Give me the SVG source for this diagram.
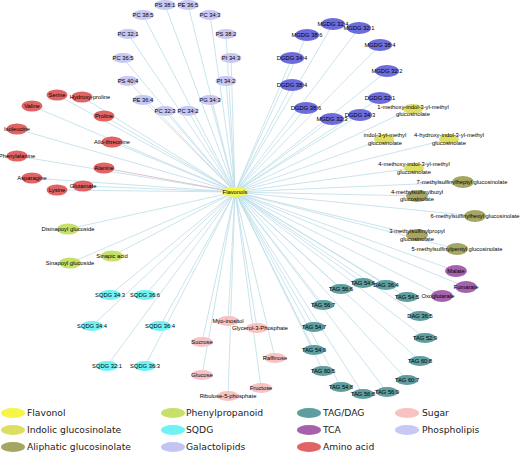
<svg xmlns="http://www.w3.org/2000/svg" width="520" height="453" viewBox="0 0 520 453">
<style>
text{font-family:"Liberation Sans",Arial,sans-serif;font-size:5.8px;fill:#000;text-anchor:middle}
.lg text{font-family:"DejaVu Sans",Verdana,sans-serif;font-size:9.2px;fill:#222;text-anchor:start}
.fl{fill:#f6f64a}.ig{fill:#dede62}.ag{fill:#a4a662}.pp{fill:#c6e06a}.sq{fill:#70f2f4}.gl{fill:#6c6cdc}.gll{fill:#c4c4f4}
.td{fill:#5f9ea0}.tca{fill:#a462ac}.aa{fill:#e06464}.su{fill:#f8c2c2}.ph{fill:#c8c8f4}
#connectors line{stroke:#bcdde9;stroke-width:0.8}
</style>
<rect width="520" height="453" fill="#fff"/>
<g id="connectors">
<line x1="235" y1="192" x2="165" y2="5"/><line x1="235" y1="192" x2="188" y2="5"/><line x1="235" y1="192" x2="210" y2="15"/><line x1="235" y1="192" x2="226" y2="34"/><line x1="235" y1="192" x2="231" y2="58"/><line x1="235" y1="192" x2="226" y2="81"/><line x1="235" y1="192" x2="210" y2="100"/><line x1="235" y1="192" x2="188" y2="111"/><line x1="235" y1="192" x2="165" y2="111"/><line x1="235" y1="192" x2="143" y2="100"/><line x1="235" y1="192" x2="128" y2="81"/><line x1="235" y1="192" x2="123" y2="58"/><line x1="235" y1="192" x2="128" y2="34"/><line x1="235" y1="192" x2="143" y2="15"/>
<line x1="235" y1="192" x2="333" y2="24"/><line x1="235" y1="192" x2="359" y2="28"/><line x1="235" y1="192" x2="380" y2="45"/><line x1="235" y1="192" x2="387" y2="71"/><line x1="235" y1="192" x2="380" y2="98"/><line x1="235" y1="192" x2="360" y2="115"/><line x1="235" y1="192" x2="332" y2="119"/><line x1="235" y1="192" x2="306" y2="108"/><line x1="235" y1="192" x2="292" y2="85"/><line x1="235" y1="192" x2="292" y2="58"/><line x1="235" y1="192" x2="307" y2="35"/>
<line x1="235" y1="192" x2="413" y2="108"/><line x1="235" y1="192" x2="384" y2="139"/><line x1="235" y1="192" x2="449" y2="139"/><line x1="235" y1="192" x2="414" y2="168"/>
<line x1="235" y1="192" x2="463" y2="182"/><line x1="235" y1="192" x2="417" y2="196"/><line x1="235" y1="192" x2="475" y2="216"/><line x1="235" y1="192" x2="417" y2="235"/><line x1="235" y1="192" x2="457" y2="249"/>
<line x1="235" y1="192" x2="456" y2="271"/><line x1="235" y1="192" x2="466" y2="287"/><line x1="235" y1="192" x2="442" y2="296"/>
<line x1="235" y1="192" x2="363" y2="283"/><line x1="235" y1="192" x2="386" y2="285"/><line x1="235" y1="192" x2="341" y2="289"/><line x1="235" y1="192" x2="407" y2="297"/><line x1="235" y1="192" x2="323" y2="305"/><line x1="235" y1="192" x2="420" y2="316"/><line x1="235" y1="192" x2="314" y2="327"/><line x1="235" y1="192" x2="425" y2="338"/><line x1="235" y1="192" x2="314" y2="350"/><line x1="235" y1="192" x2="420" y2="361"/><line x1="235" y1="192" x2="323" y2="371"/><line x1="235" y1="192" x2="407" y2="380"/><line x1="235" y1="192" x2="341" y2="387"/><line x1="235" y1="192" x2="387" y2="392"/><line x1="235" y1="192" x2="363" y2="394"/>
<line x1="235" y1="192" x2="228" y2="321"/><line x1="235" y1="192" x2="257" y2="328"/><line x1="235" y1="192" x2="202" y2="342"/><line x1="235" y1="192" x2="275" y2="358"/><line x1="235" y1="192" x2="202" y2="375"/><line x1="235" y1="192" x2="261" y2="388"/><line x1="235" y1="192" x2="228" y2="396"/>
<line x1="235" y1="192" x2="110" y2="295"/><line x1="235" y1="192" x2="145" y2="295"/><line x1="235" y1="192" x2="92" y2="326"/><line x1="235" y1="192" x2="160" y2="326"/><line x1="235" y1="192" x2="107" y2="366"/><line x1="235" y1="192" x2="145" y2="366"/>
<line x1="235" y1="192" x2="68" y2="229"/><line x1="235" y1="192" x2="112" y2="256"/><line x1="235" y1="192" x2="70" y2="263"/>
<line x1="235" y1="192" x2="57" y2="95"/><line x1="235" y1="192" x2="82" y2="97"/><line x1="235" y1="192" x2="32" y2="106"/><line x1="235" y1="192" x2="104" y2="116"/><line x1="235" y1="192" x2="17" y2="129"/><line x1="235" y1="192" x2="112" y2="142"/><line x1="235" y1="192" x2="17" y2="156"/><line x1="235" y1="192" x2="104" y2="168" style="stroke:#d4b4c0"/><line x1="235" y1="192" x2="32" y2="178"/><line x1="235" y1="192" x2="83" y2="186"/><line x1="235" y1="192" x2="57" y2="190"/>
</g>
<!-- Phospholipids -->
<g id="ps381"><ellipse class="ph" cx="165" cy="5" rx="10.5" ry="5"/><text x="165" y="7">PS 38:1</text></g>
<g id="pe365"><ellipse class="ph" cx="188" cy="5" rx="10.5" ry="5"/><text x="188" y="7">PE 36:5</text></g>
<g id="pc343"><ellipse class="ph" cx="210" cy="15" rx="10.5" ry="5"/><text x="210" y="17">PC 34:3</text></g>
<g id="ps382"><ellipse class="ph" cx="226" cy="34" rx="10.5" ry="5"/><text x="226" y="36">PS 38:2</text></g>
<g id="pi343"><ellipse class="ph" cx="231" cy="58" rx="10.5" ry="5"/><text x="231" y="60">PI 34:3</text></g>
<g id="pi342"><ellipse class="ph" cx="226" cy="81" rx="10.5" ry="5"/><text x="226" y="83">PI 34:2</text></g>
<g id="pg343"><ellipse class="ph" cx="210" cy="100" rx="10.5" ry="5"/><text x="210" y="102">PG 34:3</text></g>
<g id="pc342"><ellipse class="ph" cx="188" cy="111" rx="10.5" ry="5"/><text x="188" y="113">PC 34:2</text></g>
<g id="pc323"><ellipse class="ph" cx="165" cy="111" rx="10.5" ry="5"/><text x="165" y="113">PC 32:3</text></g>
<g id="pe364"><ellipse class="ph" cx="143" cy="100" rx="10.5" ry="5"/><text x="143" y="102">PE 36:4</text></g>
<g id="ps404"><ellipse class="ph" cx="128" cy="81" rx="10.5" ry="5"/><text x="128" y="83">PS 40:4</text></g>
<g id="pc365"><ellipse class="ph" cx="123" cy="58" rx="10.5" ry="5"/><text x="123" y="60">PC 36:5</text></g>
<g id="pc321"><ellipse class="ph" cx="128" cy="34" rx="10.5" ry="5"/><text x="128" y="36">PC 32:1</text></g>
<g id="pc385"><ellipse class="ph" cx="143" cy="15" rx="10.5" ry="5"/><text x="143" y="17">PC 38:5</text></g>
<!-- Galactolipids -->
<g id="mgdg324"><ellipse class="gl" cx="333" cy="24" rx="12" ry="6"/><text x="333" y="26">MGDG 32:4</text></g>
<g id="mgdg321"><ellipse class="gl" cx="359" cy="28" rx="12" ry="6"/><text x="359" y="30">MGDG 32:1</text></g>
<g id="mgdg384"><ellipse class="gl" cx="380" cy="45" rx="12" ry="6"/><text x="380" y="47">MGDG 38:4</text></g>
<g id="mgdg322"><ellipse class="gl" cx="387" cy="71" rx="12" ry="6"/><text x="387" y="73">MGDG 32:2</text></g>
<g id="dgdg321"><ellipse class="gl" cx="380" cy="98" rx="12" ry="6"/><text x="380" y="100">DGDG 32:1</text></g>
<g id="dgdg343"><ellipse class="gl" cx="360" cy="115" rx="12" ry="6"/><text x="360" y="117">DGDG 34:3</text></g>
<g id="mgdg323"><ellipse class="gl" cx="332" cy="119" rx="12" ry="6"/><text x="332" y="121">MGDG 32:3</text></g>
<g id="dgdg386"><ellipse class="gl" cx="306" cy="108" rx="12" ry="6"/><text x="306" y="110">DGDG 38:6</text></g>
<g id="dgdg384"><ellipse class="gl" cx="292" cy="85" rx="12" ry="6"/><text x="292" y="87">DGDG 38:4</text></g>
<g id="dgdg344"><ellipse class="gl" cx="292" cy="58" rx="12" ry="6"/><text x="292" y="60">DGDG 34:4</text></g>
<g id="mgdg386"><ellipse class="gl" cx="307" cy="35" rx="12" ry="6"/><text x="307" y="37">MGDG 38:6</text></g>
<!-- Indolic glucosinolates -->
<g id="g1m"><ellipse class="ig" cx="413" cy="109" rx="10" ry="5"/><text x="413" y="109">1-methoxy-indol-3-yl-methyl</text><text x="413" y="116">glucosinolate</text></g>
<g id="gi3m"><ellipse class="ig" cx="384" cy="139" rx="10" ry="5"/><text x="385" y="137">indol-3-yl-methyl</text><text x="385" y="145">glucosinolate</text></g>
<g id="g4h"><ellipse class="ig" cx="449" cy="139" rx="10" ry="5"/><text x="449" y="137">4-hydroxy-indol-3-yl-methyl</text><text x="449" y="145">glucosinolate</text></g>
<g id="g4m"><ellipse class="ig" cx="414" cy="168" rx="10" ry="5"/><text x="414" y="166">4-methoxy-indol-3-yl-methyl</text><text x="414" y="174">glucosinolate</text></g>
<!-- Aliphatic glucosinolates -->
<g id="g7ms"><ellipse class="ag" cx="463" cy="182" rx="11" ry="6"/><text x="462" y="184">7-methylsulfinylheptyl glucosinolate</text></g>
<g id="g4ms"><ellipse class="ag" cx="417" cy="196" rx="11" ry="6"/><text x="417" y="194">4-methylsulfinylbutyl</text><text x="417" y="201">glucosinolate</text></g>
<g id="g6ms"><ellipse class="ag" cx="475" cy="216" rx="11" ry="6"/><text x="475" y="218">6-methylsulfinylhexyl glucosinolate</text></g>
<g id="g3ms"><ellipse class="ag" cx="417" cy="235" rx="11" ry="6"/><text x="417" y="233">3-methylsulfinylpropyl</text><text x="417" y="241">glucosinolate</text></g>
<g id="g5ms"><ellipse class="ag" cx="457" cy="249" rx="11" ry="6"/><text x="457" y="251">5-methylsulfinylpentyl glucosinolate</text></g>
<!-- TCA -->
<g id="malate"><ellipse class="tca" cx="456" cy="271" rx="11" ry="6"/><text x="456" y="273">Malate</text></g>
<g id="fumarate"><ellipse class="tca" cx="466" cy="287" rx="11" ry="6"/><text x="466" y="289">Fumarate</text></g>
<g id="oxoglutarate"><ellipse class="tca" cx="442" cy="296" rx="11" ry="6"/><text x="438" y="298">Oxoglutarate</text></g>
<!-- TAG/DAG -->
<g id="tag546"><ellipse class="td" cx="363" cy="283" rx="11" ry="5"/><text x="363" y="285">TAG 54:6</text></g>
<g id="dag364"><ellipse class="td" cx="386" cy="285" rx="11" ry="5"/><text x="386" y="287">DAG 36:4</text></g>
<g id="tag566"><ellipse class="td" cx="341" cy="289" rx="11" ry="5"/><text x="341" y="291">TAG 56:6</text></g>
<g id="tag545"><ellipse class="td" cx="407" cy="297" rx="11" ry="5"/><text x="407" y="299">TAG 54:5</text></g>
<g id="tag567"><ellipse class="td" cx="323" cy="305" rx="11" ry="5"/><text x="323" y="307">TAG 56:7</text></g>
<g id="dag365"><ellipse class="td" cx="420" cy="316" rx="11" ry="5"/><text x="420" y="318">DAG 36:5</text></g>
<g id="tag547"><ellipse class="td" cx="314" cy="327" rx="11" ry="5"/><text x="314" y="329">TAG 54:7</text></g>
<g id="tag529"><ellipse class="td" cx="425" cy="338" rx="11" ry="5"/><text x="425" y="340">TAG 52:9</text></g>
<g id="tag549"><ellipse class="td" cx="314" cy="350" rx="11" ry="5"/><text x="314" y="352">TAG 54:9</text></g>
<g id="tag608"><ellipse class="td" cx="420" cy="361" rx="11" ry="5"/><text x="420" y="363">TAG 60:8</text></g>
<g id="tag605"><ellipse class="td" cx="323" cy="371" rx="11" ry="5"/><text x="323" y="373">TAG 60:5</text></g>
<g id="tag607"><ellipse class="td" cx="407" cy="380" rx="11" ry="5"/><text x="407" y="382">TAG 60:7</text></g>
<g id="tag548"><ellipse class="td" cx="341" cy="387" rx="11" ry="5"/><text x="341" y="389">TAG 54:8</text></g>
<g id="tag569"><ellipse class="td" cx="387" cy="392" rx="11" ry="5"/><text x="387" y="394">TAG 56:9</text></g>
<g id="tag568"><ellipse class="td" cx="363" cy="394" rx="11" ry="5"/><text x="363" y="396">TAG 56:8</text></g>
<!-- Sugars -->
<g id="myo"><ellipse class="su" cx="228" cy="321" rx="11" ry="5"/><text x="228" y="323">Myo-inositol</text></g>
<g id="g3p"><ellipse class="su" cx="257" cy="328" rx="11" ry="5"/><text x="260" y="330">Glycerol-3-Phosphate</text></g>
<g id="sucrose"><ellipse class="su" cx="202" cy="342" rx="11" ry="5"/><text x="202" y="344">Sucrose</text></g>
<g id="raffinose"><ellipse class="su" cx="275" cy="358" rx="11" ry="5"/><text x="275" y="360">Raffinose</text></g>
<g id="glucose"><ellipse class="su" cx="202" cy="375" rx="11" ry="5"/><text x="202" y="377">Glucose</text></g>
<g id="fructose"><ellipse class="su" cx="261" cy="388" rx="11" ry="5"/><text x="261" y="390">Fructose</text></g>
<g id="r5p"><ellipse class="su" cx="228" cy="396" rx="11" ry="5"/><text x="228" y="398">Ribulose-5-phosphate</text></g>
<!-- SQDG -->
<g id="sq343"><ellipse class="sq" cx="110" cy="295" rx="11" ry="5"/><text x="110" y="297">SQDG 34:3</text></g>
<g id="sq366"><ellipse class="sq" cx="145" cy="295" rx="11" ry="5"/><text x="145" y="297">SQDG 36:6</text></g>
<g id="sq344"><ellipse class="sq" cx="92" cy="326" rx="11" ry="5"/><text x="92" y="328">SQDG 34:4</text></g>
<g id="sq364"><ellipse class="sq" cx="160" cy="326" rx="11" ry="5"/><text x="160" y="328">SQDG 36:4</text></g>
<g id="sq321"><ellipse class="sq" cx="107" cy="366" rx="11" ry="5"/><text x="107" y="368">SQDG 32:1</text></g>
<g id="sq363"><ellipse class="sq" cx="145" cy="366" rx="11" ry="5"/><text x="145" y="368">SQDG 36:3</text></g>
<!-- Phenylpropanoids -->
<g id="disinapoyl"><ellipse class="pp" cx="68" cy="229" rx="11" ry="5.5"/><text x="68" y="231">Disinapoyl glucoside</text></g>
<g id="sinapic"><ellipse class="pp" cx="112" cy="256" rx="11" ry="5.5"/><text x="112" y="258">Sinapic acid</text></g>
<g id="sinapoyl"><ellipse class="pp" cx="70" cy="263" rx="11" ry="5.5"/><text x="70" y="265">Sinapoyl glucoside</text></g>
<!-- Amino acids -->
<g id="serine"><ellipse class="aa" cx="57" cy="95" rx="10.5" ry="5.5"/><text x="57" y="97">Serine</text></g>
<g id="hydroxyproline"><ellipse class="aa" cx="82" cy="97" rx="10.5" ry="5.5"/><text x="90" y="99">Hydroxy-proline</text></g>
<g id="valine"><ellipse class="aa" cx="32" cy="106" rx="10.5" ry="5.5"/><text x="32" y="108">Valine</text></g>
<g id="proline"><ellipse class="aa" cx="104" cy="116" rx="10.5" ry="5.5"/><text x="104" y="118">Proline</text></g>
<g id="isoleucine"><ellipse class="aa" cx="17" cy="129" rx="10.5" ry="5.5"/><text x="17" y="131">Isoleucine</text></g>
<g id="allothreonine"><ellipse class="aa" cx="112" cy="142" rx="10.5" ry="5.5"/><text x="112" y="144">Allo-threonine</text></g>
<g id="phenylalanine"><ellipse class="aa" cx="17" cy="156" rx="10.5" ry="5.5"/><text x="17" y="158">Phenylalanine</text></g>
<g id="alanine"><ellipse class="aa" cx="104" cy="168" rx="10.5" ry="5.5"/><text x="104" y="170">Alanine</text></g>
<g id="asparagine"><ellipse class="aa" cx="32" cy="178" rx="10.5" ry="5.5"/><text x="32" y="180">Asparagine</text></g>
<g id="glutamate"><ellipse class="aa" cx="83" cy="186" rx="10.5" ry="5.5"/><text x="83" y="188">Glutamate</text></g>
<g id="lysine"><ellipse class="aa" cx="57" cy="190" rx="10.5" ry="5.5"/><text x="57" y="192">Lysine</text></g>
<!-- Center -->
<g id="flavonols"><ellipse class="fl" cx="235" cy="192" rx="13" ry="5"/><text x="235" y="194">Flavonols</text></g>
<!-- Legend -->
<g id="legend" class="lg">
<ellipse class="fl" cx="13" cy="413" rx="12" ry="5"/><text x="27" y="416">Flavonol</text>
<ellipse class="ig" cx="13" cy="430" rx="12" ry="5"/><text x="27" y="433">Indolic glucosinolate</text>
<ellipse class="ag" cx="13" cy="447" rx="12" ry="5"/><text x="27" y="450">Aliphatic glucosinolate</text>
<ellipse class="pp" cx="173" cy="413" rx="12" ry="5"/><text x="186" y="416">Phenylpropanoid</text>
<ellipse class="sq" cx="173" cy="430" rx="12" ry="5"/><text x="186" y="433">SQDG</text>
<ellipse class="gll" cx="173" cy="447" rx="12" ry="5"/><text x="186" y="450">Galactolipids</text>
<ellipse class="td" cx="309" cy="413" rx="12" ry="5"/><text x="323" y="416">TAG/DAG</text>
<ellipse class="tca" cx="309" cy="430" rx="12" ry="5"/><text x="323" y="433">TCA</text>
<ellipse class="aa" cx="309" cy="447" rx="12" ry="5"/><text x="323" y="450">Amino acid</text>
<ellipse class="su" cx="407" cy="413" rx="12" ry="5"/><text x="422" y="416">Sugar</text>
<ellipse class="ph" cx="407" cy="430" rx="12" ry="5"/><text x="422" y="433">Phospholipis</text>
</g>
</svg>
